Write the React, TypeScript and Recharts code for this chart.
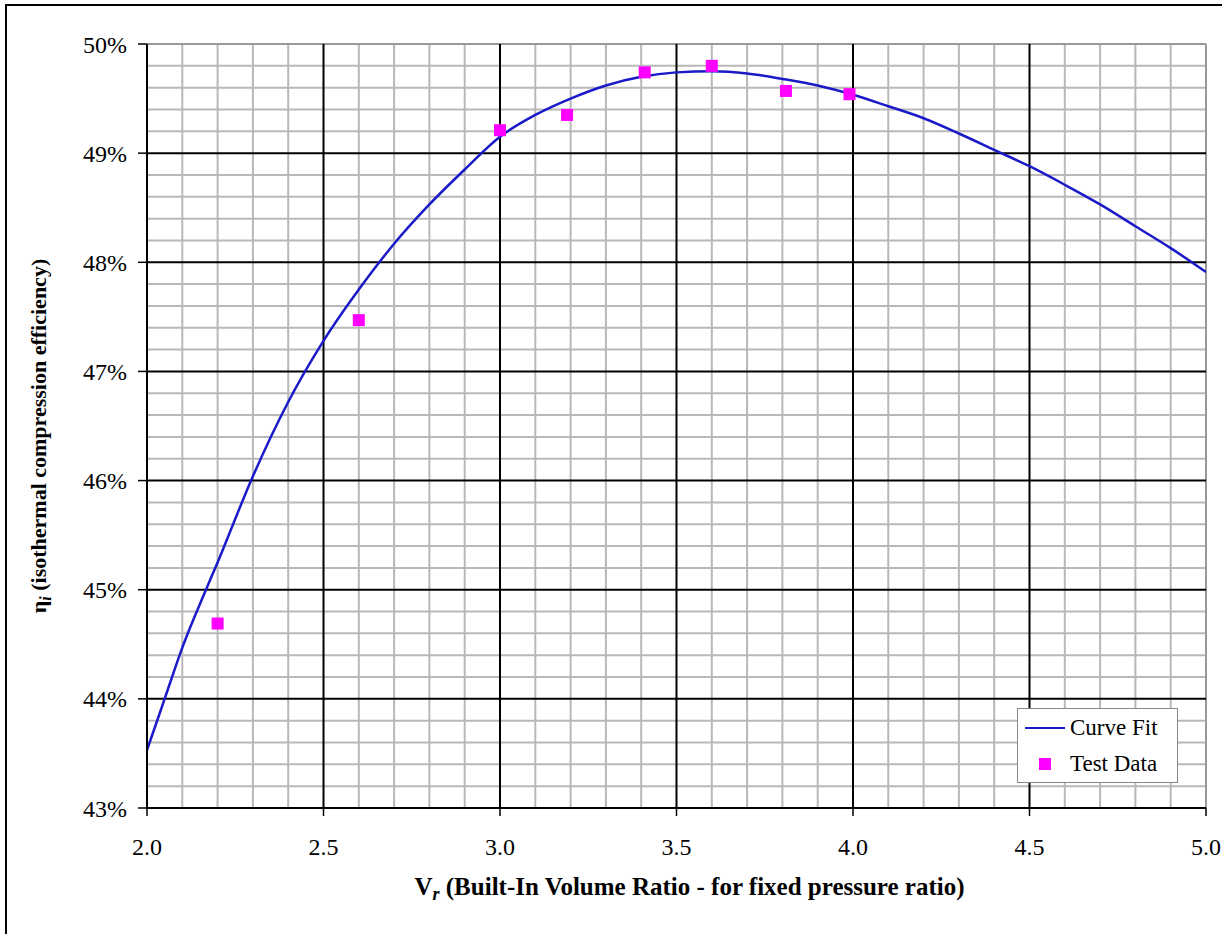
import React from 'react';
import { ComposedChart, Line, Scatter, XAxis, YAxis, ReferenceLine } from 'recharts';

const curveX = [2.0, 2.05, 2.1, 2.167, 2.2, 2.3, 2.4, 2.5, 2.6, 2.7, 2.8, 2.9, 3.0, 3.1, 3.2, 3.3, 3.4, 3.5, 3.6, 3.7, 3.8, 3.9, 4.0, 4.1, 4.2, 4.3, 4.4, 4.5, 4.6, 4.7, 4.8, 4.9, 5.0];
const curveY = [43.53, 44.0, 44.47, 45.0, 45.25, 46.04, 46.72, 47.28, 47.75, 48.17, 48.53, 48.85, 49.15, 49.35, 49.5, 49.62, 49.7, 49.74, 49.75, 49.73, 49.68, 49.62, 49.535, 49.43, 49.32, 49.18, 49.03, 48.88, 48.71, 48.53, 48.33, 48.13, 47.91];

const testX = [2.2, 2.6, 3.0, 3.19, 3.41, 3.6, 3.81, 3.99];
const testY = [44.69, 47.47, 49.21, 49.35, 49.74, 49.8, 49.57, 49.54];

const xTicks = [2.0, 2.5, 3.0, 3.5, 4.0, 4.5, 5.0];
const yTicks = [43, 44, 45, 46, 47, 48, 49, 50];
const xMinor = [2.1, 2.2, 2.3, 2.4, 2.6, 2.7, 2.8, 2.9, 3.1, 3.2, 3.3, 3.4, 3.6, 3.7, 3.8, 3.9, 4.1, 4.2, 4.3, 4.4, 4.6, 4.7, 4.8, 4.9];
const yMinor = [43.2, 43.4, 43.6, 43.8, 44.2, 44.4, 44.6, 44.8, 45.2, 45.4, 45.6, 45.8, 46.2, 46.4, 46.6, 46.8, 47.2, 47.4, 47.6, 47.8, 48.2, 48.4, 48.6, 48.8, 49.2, 49.4, 49.6, 49.8];
const xMajorInner = [2.5, 3.0, 3.5, 4.0, 4.5];
const yMajorInner = [44, 45, 46, 47, 48, 49];

const curveData = curveX.map((x, i) => ({ x, y: curveY[i] }));
const testData = testX.map((x, i) => ({ x, y: testY[i] }));

const FONT = "'Liberation Serif', 'Times New Roman', serif";
const BLUE = '#1a1ac8';
const MAGENTA = '#ff00ff';

const SquareShape = (props: any) => {
  const { cx, cy } = props;
  if (cx == null || cy == null) return null;
  return <rect x={cx - 6} y={cy - 6} width={12} height={12} fill={MAGENTA} />;
};

const XTick = (props: any) => {
  const { x, y, payload } = props;
  return (
    <text x={x} y={y} dy="0.71em" textAnchor="middle" style={{ fontFamily: FONT, fontSize: 24 }} fill="#000">
      {Number(payload.value).toFixed(1)}
    </text>
  );
};

const YTick = (props: any) => {
  const { x, y, payload } = props;
  return (
    <text x={x} y={y} dy="0.355em" textAnchor="end" style={{ fontFamily: FONT, fontSize: 24 }} fill="#000">
      {`${payload.value}%`}
    </text>
  );
};

const XLabel = (props: any) => {
  const vb = props.viewBox || {};
  const cx = vb.x + vb.width / 2 + 13;
  return (
    <text x={cx} y={895} textAnchor="middle" style={{ fontFamily: FONT, fontSize: 25, fontWeight: 'bold' }} fill="#000">
      <tspan>V</tspan>
      <tspan fontStyle="italic" style={{ fontSize: 18 }} dy={5}>r</tspan>
      <tspan dy={-5}> (Built-In Volume Ratio - for fixed pressure ratio)</tspan>
    </text>
  );
};

const YLabel = (props: any) => {
  const vb = props.viewBox || {};
  const cy = vb.y + vb.height / 2 + 10;
  const x = 46;
  return (
    <text x={x} y={cy} transform={`rotate(-90 ${x} ${cy})`} textAnchor="middle" style={{ fontFamily: FONT, fontSize: 22, fontWeight: 'bold' }} fill="#000">
      <tspan>η</tspan>
      <tspan fontStyle="italic" style={{ fontSize: 16 }} dy={5}>i</tspan>
      <tspan dy={-5}> (isothermal compression efficiency)</tspan>
    </text>
  );
};

const LegendBox = () => (
  <div
    style={{
      position: 'absolute',
      left: 1017,
      top: 708,
      width: 161,
      height: 75,
      background: '#fff',
      border: '1px solid #888',
      fontFamily: FONT,
      fontSize: 23,
      color: '#000',
      boxSizing: 'border-box',
    }}
  >
    <div style={{ position: 'absolute', left: 7, top: 4, display: 'flex', alignItems: 'center', height: 30 }}>
      <div style={{ width: 40, height: 0, borderTop: `2.5px solid ${BLUE}`, marginRight: 5 }} />
      <span>Curve Fit</span>
    </div>
    <div style={{ position: 'absolute', left: 7, top: 40, display: 'flex', alignItems: 'center', height: 30 }}>
      <div style={{ width: 40, display: 'flex', justifyContent: 'center', marginRight: 5 }}>
        <div style={{ width: 12, height: 12, background: MAGENTA }} />
      </div>
      <span>Test Data</span>
    </div>
  </div>
);

export default function App() {
  return (
    <div style={{ position: 'fixed', left: 0, top: 0, width: 1222, height: 934, overflow: 'hidden', background: '#fff', fontFamily: FONT }}>
      <div
        style={{
          position: 'absolute',
          left: 5,
          top: 4,
          width: 1400,
          height: 1100,
          borderLeft: '2px solid #000',
          borderTop: '2px solid #000',
        }}
      />
      <div style={{ position: 'absolute', left: 0, top: 0 }}>
        <ComposedChart width={1222} height={934} margin={{ top: 44, right: 16, bottom: 0, left: 0 }}>
          <XAxis
            dataKey="x"
            type="number"
            domain={[2, 5]}
            ticks={xTicks}
            allowDataOverflow
            height={126}
            tickSize={8}
            tickMargin={22}
            tick={<XTick />}
            axisLine={{ stroke: '#000', strokeWidth: 2 }}
            tickLine={{ stroke: '#000', strokeWidth: 1.5 }}
            label={<XLabel />}
          />
          <YAxis
            dataKey="y"
            type="number"
            domain={[43, 50]}
            ticks={yTicks}
            allowDataOverflow
            width={147}
            tickSize={9}
            tickMargin={11}
            tick={<YTick />}
            axisLine={{ stroke: '#000', strokeWidth: 2 }}
            tickLine={{ stroke: '#000', strokeWidth: 1.5 }}
            label={<YLabel />}
          />
          {xMinor.map((v) => (
            <ReferenceLine key={`xm${v}`} x={v} stroke="#b8b8b8" strokeWidth={2} />
          ))}
          {yMinor.map((v) => (
            <ReferenceLine key={`ym${v}`} y={v} stroke="#b8b8b8" strokeWidth={2} />
          ))}
          <ReferenceLine y={50} stroke="#999" strokeWidth={2} />
          <ReferenceLine x={5} stroke="#999" strokeWidth={2} />
          {xMajorInner.map((v) => (
            <ReferenceLine key={`xM${v}`} x={v} stroke="#000" strokeWidth={2} />
          ))}
          {yMajorInner.map((v) => (
            <ReferenceLine key={`yM${v}`} y={v} stroke="#000" strokeWidth={2} />
          ))}
          <Line
            data={curveData}
            dataKey="y"
            name="Curve Fit"
            type="monotone"
            stroke={BLUE}
            strokeWidth={2.5}
            dot={false}
            activeDot={false}
            isAnimationActive={false}
          />
          <Scatter
            data={testData}
            dataKey="y"
            name="Test Data"
            fill={MAGENTA}
            shape={<SquareShape />}
            isAnimationActive={false}
          />
        </ComposedChart>
      </div>
      <LegendBox />
    </div>
  );
}
